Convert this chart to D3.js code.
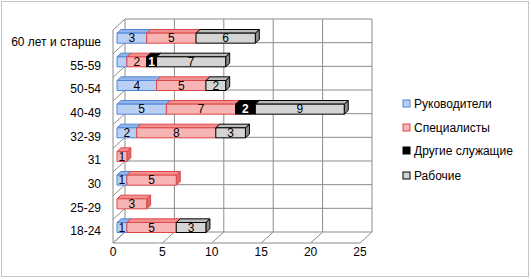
<!DOCTYPE html>
<html>
<head><meta charset="utf-8"></head>
<style>
  html, body { margin: 0; background: #fff; }
  svg { display: block; font-family: "Liberation Sans", Arial, sans-serif; }
</style>
<body>
<svg width="531" height="279"></svg>
<script src="https://cdnjs.cloudflare.com/ajax/libs/d3/7.8.5/d3.min.js"></script>
<script>
  // data, top to bottom as in the chart
  const categories = ["60 лет и старше", "55-59", "50-54", "40-49", "32-39", "31", "30", "25-29", "18-24"];
  const seriesNames = ["Руководители", "Специалисты", "Другие служащие", "Рабочие"];
  const managers   = [3, 1, 4, 5, 2, 0, 1, 0, 1];
  const specialists = [5, 2, 5, 7, 8, 1, 5, 3, 5];
  const otherStaff = [0, 1, 0, 2, 0, 0, 0, 0, 0];
  const workers    = [6, 7, 2, 9, 3, 0, 0, 0, 3];
  const xTicks = [0, 5, 10, 15, 20, 25];

  const fills  = ["#b9d0f4", "#f7b4b4", "#000000", "#d4d4d4"];
  const tops   = ["#94b5ea", "#f09090", "#000000", "#bcbcbc"];
  const sides  = ["#6f97d6", "#d86a6a", "#000000", "#8a8a8a"];
  const strokes = ["#4f86d8", "#e04848", "#000000", "#000000"];

  const svg = d3.select("svg");

  // outer border
  svg.append("rect").attr("x", 1.5).attr("y", 1.5).attr("width", 527).attr("height", 275)
    .attr("fill", "none").attr("stroke", "#8a8a8a").attr("stroke-dasharray", "1,1");

  // front plane scales; depth pushes things right/up
  const x = d3.scaleLinear().domain([0, 25]).range([113, 360]);
  const y = d3.scaleBand().domain(categories).range([30, 243]);
  const DX = 12, DY = -11;
  const P = (v, yy, z) => [x(v) + DX * z, yy + DY * z];

  const grid = svg.append("g").attr("stroke", "#8c8c8c").attr("fill", "none").attr("stroke-width", 1);
  const line = d3.line();

  // back wall vertical gridlines + floor diagonals
  xTicks.forEach(t => {
    grid.append("path").attr("d", line([P(t, 30, 1), P(t, 243, 1)]));
    grid.append("path").attr("d", line([P(t, 243, 1), P(t, 243, 0)]));
  });
  // horizontal gridlines on back wall and side wall
  const bounds = categories.map(c => y(c)).concat([243]);
  bounds.forEach(b => {
    grid.append("path").attr("d", line([P(0, b, 0), P(0, b, 1), P(25, b, 1)]));
  });
  // side wall front edge and floor front edge
  grid.append("path").attr("d", line([P(0, 30, 0), P(0, 243, 0), P(25, 243, 0)]));

  // bars
  const series = [managers, specialists, otherStaff, workers];
  const z0 = 1 / 3, z1 = 2 / 3;
  const barH = 10;
  const bars = svg.append("g");
  categories.forEach((c, i) => {
    const cy = y(c) + y.bandwidth() / 2;
    const yt = cy - barH / 2, yb = cy + barH / 2;
    let acc = 0;
    series.forEach((s, k) => {
      const v = s[i];
      if (!v) return;
      const a = acc, b = acc + v;
      acc = b;
      const g = bars.append("g").attr("stroke", strokes[k]).attr("stroke-width", 1).attr("stroke-linejoin", "round");
      // right side
      g.append("path").attr("fill", sides[k])
        .attr("d", line([P(b, yt, z0), P(b, yt, z1), P(b, yb, z1), P(b, yb, z0)]) + "Z");
      // top
      g.append("path").attr("fill", tops[k])
        .attr("d", line([P(a, yt, z0), P(a, yt, z1), P(b, yt, z1), P(b, yt, z0)]) + "Z");
      // front
      const f0 = P(a, yt, z0), f1 = P(b, yb, z0);
      g.append("rect").attr("fill", fills[k])
        .attr("x", f0[0]).attr("y", f0[1]).attr("width", f1[0] - f0[0]).attr("height", f1[1] - f0[1]);
      if (!(k === 0 && i === 1)) {
        bars.append("text")
          .attr("x", (f0[0] + f1[0]) / 2).attr("y", (f0[1] + f1[1]) / 2 + 4)
          .attr("text-anchor", "middle").attr("font-size", 12)
          .attr("fill", k === 2 ? "#fff" : "#000")
          .attr("font-weight", k === 2 ? "bold" : "normal")
          .text(v);
      }
    });
  });

  // category labels
  svg.append("g").selectAll("text").data(categories).join("text")
    .attr("x", 101).attr("y", c => y(c) + y.bandwidth() / 2 + 4)
    .attr("text-anchor", "end").attr("font-size", 12).attr("fill", "#000")
    .text(c => c);

  // value axis labels
  svg.append("g").selectAll("text").data(xTicks).join("text")
    .attr("x", t => x(t)).attr("y", 256)
    .attr("text-anchor", "middle").attr("font-size", 12).attr("fill", "#000")
    .text(t => t);

  // legend
  const legY = [104, 128, 151, 176];
  const leg = svg.append("g").selectAll("g").data(seriesNames).join("g")
    .attr("transform", (d, k) => `translate(403,${legY[k]})`);
  leg.append("rect").attr("x", 0).attr("y", -4).attr("width", 7).attr("height", 7)
    .attr("fill", (d, k) => fills[k]).attr("stroke", (d, k) => strokes[k]);
  leg.append("text").attr("x", 11).attr("y", 4).attr("font-size", 12).attr("fill", "#000")
    .text(d => d);
</script>
</body>
</html>
